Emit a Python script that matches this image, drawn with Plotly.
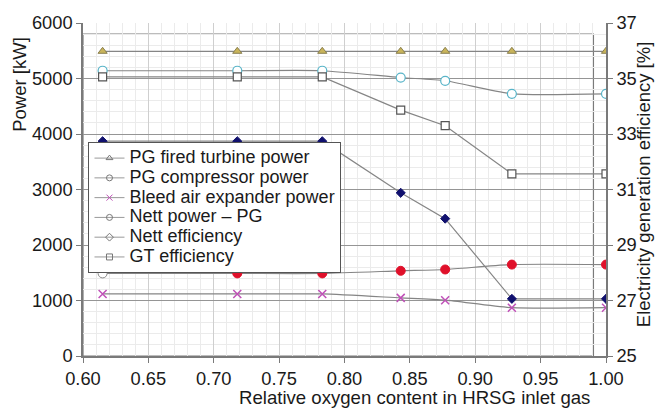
import plotly.graph_objects as go

# ---- data ----
oxygen = [0.615, 0.718, 0.783, 0.843, 0.877, 0.928, 1.00]
pg_turbine_power = [5490, 5490, 5490, 5490, 5490, 5490, 5490]
pg_compressor_power = [5140, 5140, 5140, 5017, 4959, 4724, 4724]
bleed_expander_power = [1118, 1118, 1118, 1047, 1006, 870, 870]
nett_power_pg = [1488, 1488, 1488, 1535, 1559, 1647, 1647]
nett_efficiency = [32.74, 32.74, 32.74, 30.88, 29.95, 27.06, 27.06]
gt_efficiency = [35.06, 35.06, 35.06, 33.86, 33.30, 31.56, 31.56]

x_ticks = [0.60, 0.65, 0.70, 0.75, 0.80, 0.85, 0.90, 0.95, 1.00]
names = ["PG fired turbine power", "PG compressor power", "Bleed air expander power",
         "Nett power \u2013 PG", "Nett efficiency", "GT efficiency"]

FONT = "Liberation Sans, Arial, sans-serif"
LINE = "#858585"

fig = go.Figure()

def add(y, marker, yaxis="y", shape="linear"):
    fig.add_trace(go.Scatter(
        x=oxygen, y=y, yaxis=yaxis, mode="lines+markers",
        line=dict(color=LINE, width=1.2, shape=shape, smoothing=0.6),
        marker=marker, showlegend=False, hoverinfo="x+y"))

add(pg_turbine_power, dict(symbol="triangle-up", size=8, color="#c9b45a",
                           line=dict(color="#8a8050", width=1)))
add(pg_compressor_power, dict(symbol="circle", size=9, color="white",
                              line=dict(color="#58b4c8", width=1.2)), shape="spline")
add(bleed_expander_power, dict(symbol="x-thin", size=8,
                               line=dict(color="#c050b8", width=1.5)), shape="spline")
add(nett_power_pg, dict(symbol="circle", size=9,
                        color=["white"] + ["#e0102a"] * (len(oxygen) - 1),
                        line=dict(color=["#888888"] + ["#e0102a"] * (len(oxygen) - 1), width=1)),
    shape="spline")
add(nett_efficiency, dict(symbol="diamond", size=7, color="#10106e",
                          line=dict(color="#10106e", width=1)), yaxis="y2")
add(gt_efficiency, dict(symbol="square", size=8, color="white",
                        line=dict(color="#555555", width=1.2)), yaxis="y2")

# legend-only entries (grey symbols as in the reference legend)
legend_symbols = ["triangle-up-open", "circle-open", "x-thin", "circle-open",
                  "diamond-open", "square-open"]
legend_colors = ["#777777", "#777777", "#c050b8", "#777777", "#777777", "#777777"]
for nm, sym, col in zip(names, legend_symbols, legend_colors):
    fig.add_trace(go.Scatter(
        x=[None], y=[None], name='<span style="font-size:18px">' + nm + '</span>',
        mode="lines+markers",
        line=dict(color="#999999", width=1),
        marker=dict(symbol=sym, size=6, color=col, line=dict(color=col, width=1))))

axis_font = dict(family=FONT, size=18.3, color="#1a1a1a")

fig.update_layout(
    width=661, height=409,
    margin=dict(l=83, r=55, t=16, b=53),
    paper_bgcolor="white", plot_bgcolor="white",
    font=dict(family=FONT, size=18, color="#1a1a1a"),
    xaxis=dict(range=[0.60, 1.00], tickvals=x_ticks, tickformat=".2f",
               showline=True, linecolor="#7a7a7a", linewidth=1.5,
               ticks="outside", ticklen=5, tickcolor="#7a7a7a",
               showgrid=True, gridcolor="#cfcfcf", gridwidth=1,
               minor=dict(dtick=0.01, showgrid=True, gridcolor="#ebebeb", gridwidth=1),
               tickfont=axis_font, zeroline=False),
    yaxis=dict(range=[0, 6000], dtick=1000, tickformat="d",
               showline=True, linecolor="#7a7a7a", linewidth=1.5,
               ticks="outside", ticklen=5, tickcolor="#7a7a7a",
               showgrid=True, gridcolor="#959595", gridwidth=1.3,
               minor=dict(dtick=200, showgrid=True, gridcolor="#ebebeb", gridwidth=1),
               tickfont=axis_font, zeroline=False),
    yaxis2=dict(range=[25, 37], tick0=25, dtick=2, overlaying="y", side="right",
                showline=True, linecolor="#7a7a7a", linewidth=1.5,
                ticks="outside", ticklen=5, tickcolor="#7a7a7a",
                showgrid=False, zeroline=False, tickfont=axis_font),
    legend=dict(x=0.0105, y=0.642, xanchor="left", yanchor="top",
                bgcolor="white", bordercolor="#555555", borderwidth=1,
                font=dict(family=FONT, size=12.9, color="#1a1a1a"),
                itemwidth=30, tracegroupgap=0),
    shapes=[dict(type="rect", xref="x domain", yref="y domain",
                 x0=0, x1=0.976, y0=0, y1=0.967,
                 line=dict(color="#7a7a7a", width=1.2), layer="below")],
    annotations=[
        dict(text="Power [kW]", xref="paper", yref="paper", x=-0.122, y=0.815,
             textangle=-90, showarrow=False, xanchor="center", yanchor="middle",
             font=dict(family=FONT, size=18.5, color="#1a1a1a")),
        dict(text="Relative oxygen content in HRSG inlet gas", xref="paper", yref="paper",
             x=0.633, y=-0.124, showarrow=False, xanchor="center", yanchor="middle",
             font=dict(family=FONT, size=18.6, color="#1a1a1a")),
        dict(text="Electricity generation efficiency [%]", xref="paper", yref="paper",
             x=1.072, y=0.515, textangle=-90, showarrow=False, xanchor="center",
             yanchor="middle", font=dict(family=FONT, size=18.5, color="#1a1a1a")),
    ],
)

fig.write_html("out.html")
